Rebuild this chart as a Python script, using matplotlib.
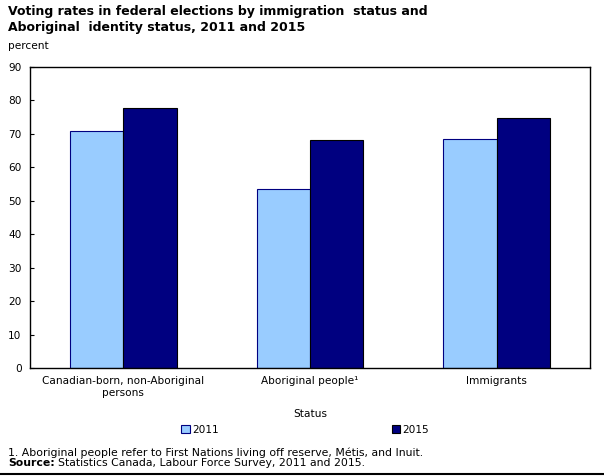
import matplotlib
matplotlib.use("Agg")
import matplotlib.pyplot as plt
from matplotlib.patches import Patch
from matplotlib.lines import Line2D
import numpy as np

categories = ["Canadian-born, non-Aboriginal\npersons", "Aboriginal people\u00b9", "Immigrants"]
years = ["2011", "2015"]
values_2011 = [70.8, 53.5, 68.4]
values_2015 = [77.7, 68.1, 74.7]
yticks = [0, 10, 20, 30, 40, 50, 60, 70, 80, 90]

plt.rcParams['font.family'] = ['DejaVu Sans']
W, H = 604, 476
fig = plt.figure(figsize=(W / 100, H / 100), dpi=100)
ax = fig.add_axes([30 / W, 1 - 368 / H, 560 / W, (368 - 66.7) / H])

x = np.arange(len(categories))
w = 2 / 7
c1, c2 = "#99CCFF", "#000080"
ax.bar(x - w / 2, values_2011, width=w, color=c1, edgecolor="#000080", linewidth=0.8, label=years[0])
ax.bar(x + w / 2, values_2015, width=w, color=c2, edgecolor="#000000", linewidth=0.8, label=years[1])

ax.set_xlim(-0.5, 2.5)
ax.set_ylim(0, 90)
ax.set_yticks(yticks)
ax.set_xticks(x)
ax.set_xticklabels(categories, fontsize=7.6)
ax.tick_params(axis='x', length=0, pad=6)
ax.tick_params(axis='y', direction='in', length=3, labelsize=7.6, pad=6)
for s in ax.spines.values():
    s.set_linewidth(1.0)
ax.set_xlabel("Status", fontsize=7.6, labelpad=8)

fig.text(8 / W, 1 - 5 / H, "Voting rates in federal elections by immigration  status and\nAboriginal  identity status, 2011 and 2015",
         fontsize=9, fontweight='bold', va='top', ha='left', linespacing=1.25)
fig.text(8 / W, 1 - 46 / H, "percent", fontsize=7.6, va='center', ha='left')

handles = [Patch(facecolor=c1, edgecolor="#000080", linewidth=0.8),
           Patch(facecolor=c2, edgecolor="#000000", linewidth=0.8)]
fig.legend(handles, years, loc='center', bbox_to_anchor=(305 / W, 1 - 430 / H), ncol=2,
           frameon=False, fontsize=7.6, handlelength=0.8, handleheight=0.8,
           handletextpad=0.2, columnspacing=16.4)

fig.text(8 / W, 1 - 452.5 / H, "1. Aboriginal people refer to First Nations living off reserve, M\u00e9tis, and Inuit.",
         fontsize=7.8, va='center', ha='left')
src = fig.text(8 / W, 1 - 463.5 / H, "Source:", fontsize=7.8, fontweight='bold', va='center', ha='left')
fig.text(0, 0, "Statistics Canada, Labour Force Survey, 2011 and 2015.", fontsize=7.8,
         va='center', ha='left')
fig.texts[-1].remove()
fig.add_artist(plt.Annotation("Statistics Canada, Labour Force Survey, 2011 and 2015.",
                              xy=(1, 0.5), xycoords=src, xytext=(2.5, 0), textcoords='offset points',
                              fontsize=7.8, va='center', ha='left'))
fig.add_artist(Line2D([0, 1], [1 - 473.5 / H, 1 - 473.5 / H], transform=fig.transFigure, color='black', linewidth=1.5))

fig.savefig("out.png", dpi=100)
